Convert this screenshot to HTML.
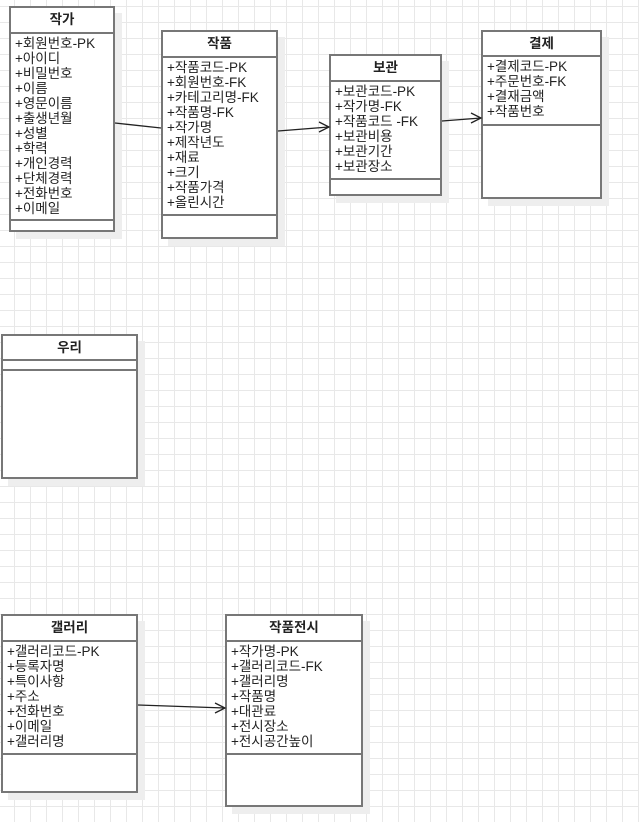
<!DOCTYPE html>
<html><head><meta charset="utf-8">
<style>
html,body{margin:0;padding:0;}
body{width:639px;height:822px;position:relative;overflow:hidden;background-color:#fff;
background-image:linear-gradient(#e8e8e8 1px,transparent 1px),linear-gradient(90deg,#e8e8e8 1px,transparent 1px);
background-size:16px 16px;background-position:14px 6px;
font-family:"Liberation Sans","Noto Sans CJK KR","NanumGothic",sans-serif;font-size:13.5px;color:#222;}
.b{position:absolute;box-sizing:border-box;border:2px solid #777;background:#fff;box-shadow:7px 7px 0 #eee;}
.h{position:absolute;left:0;right:0;top:0;box-sizing:border-box;border-bottom:2px solid #777;text-align:center;font-weight:bold;font-size:13.5px;}
.it{position:absolute;left:4px;line-height:15px;white-space:nowrap;}
.s{position:absolute;left:0;right:0;border-top:2px solid #777;}
svg{position:absolute;left:0;top:0;}
</style></head><body>

<div class="b" style="left:9px;top:6px;width:106px;height:226px;">
 <div class="h" style="height:26px;line-height:24px;">작가</div>
 <div class="it" style="top:28px;">+회원번호-PK<br>+아이디<br>+비밀번호<br>+이름<br>+영문이름<br>+출생년월<br>+성별<br>+학력<br>+개인경력<br>+단체경력<br>+전화번호<br>+이메일</div>
 <div class="s" style="top:211px;"></div>
</div>

<div class="b" style="left:161px;top:30px;width:117px;height:209px;">
 <div class="h" style="height:26px;line-height:24px;">작품</div>
 <div class="it" style="top:28px;">+작품코드-PK<br>+회원번호-FK<br>+카테고리명-FK<br>+작품명-FK<br>+작가명<br>+제작년도<br>+재료<br>+크기<br>+작품가격<br>+올린시간</div>
 <div class="s" style="top:182px;"></div>
</div>

<div class="b" style="left:329px;top:54px;width:113px;height:142px;">
 <div class="h" style="height:26px;line-height:24px;">보관</div>
 <div class="it" style="top:28px;">+보관코드-PK<br>+작가명-FK<br>+작품코드 -FK<br>+보관비용<br>+보관기간<br>+보관장소</div>
 <div class="s" style="top:122px;"></div>
</div>

<div class="b" style="left:481px;top:30px;width:121px;height:169px;">
 <div class="h" style="height:25px;line-height:23px;">결제</div>
 <div class="it" style="top:27px;">+결제코드-PK<br>+주문번호-FK<br>+결재금액<br>+작품번호</div>
 <div class="s" style="top:92px;"></div>
</div>

<div class="b" style="left:1px;top:334px;width:137px;height:145px;">
 <div class="h" style="height:25px;line-height:23px;">우리</div>
 <div class="s" style="top:33px;"></div>
</div>

<div class="b" style="left:1px;top:614px;width:137px;height:179px;">
 <div class="h" style="height:26px;line-height:24px;">갤러리</div>
 <div class="it" style="top:28px;">+갤러리코드-PK<br>+등록자명<br>+특이사항<br>+주소<br>+전화번호<br>+이메일<br>+갤러리명</div>
 <div class="s" style="top:137px;"></div>
</div>

<div class="b" style="left:225px;top:614px;width:138px;height:193px;">
 <div class="h" style="height:26px;line-height:24px;">작품전시</div>
 <div class="it" style="top:28px;">+작가명-PK<br>+갤러리코드-FK<br>+갤러리명<br>+작품명<br>+대관료<br>+전시장소<br>+전시공간높이</div>
 <div class="s" style="top:137px;"></div>
</div>

<svg width="639" height="822" viewBox="0 0 639 822">
 <g stroke="#222" stroke-width="1.3" fill="none">
  <line x1="115" y1="123" x2="161" y2="128"/>
  <line x1="278" y1="131" x2="329" y2="127"/>
  <polyline points="319,122 329,127 319,132"/>
  <line x1="442" y1="121" x2="481" y2="118"/>
  <polyline points="471,113 481,118 471,123"/>
  <line x1="138" y1="705" x2="225" y2="708"/>
  <polyline points="215,703 225,708 215,713"/>
 </g>
</svg>
</body></html>
